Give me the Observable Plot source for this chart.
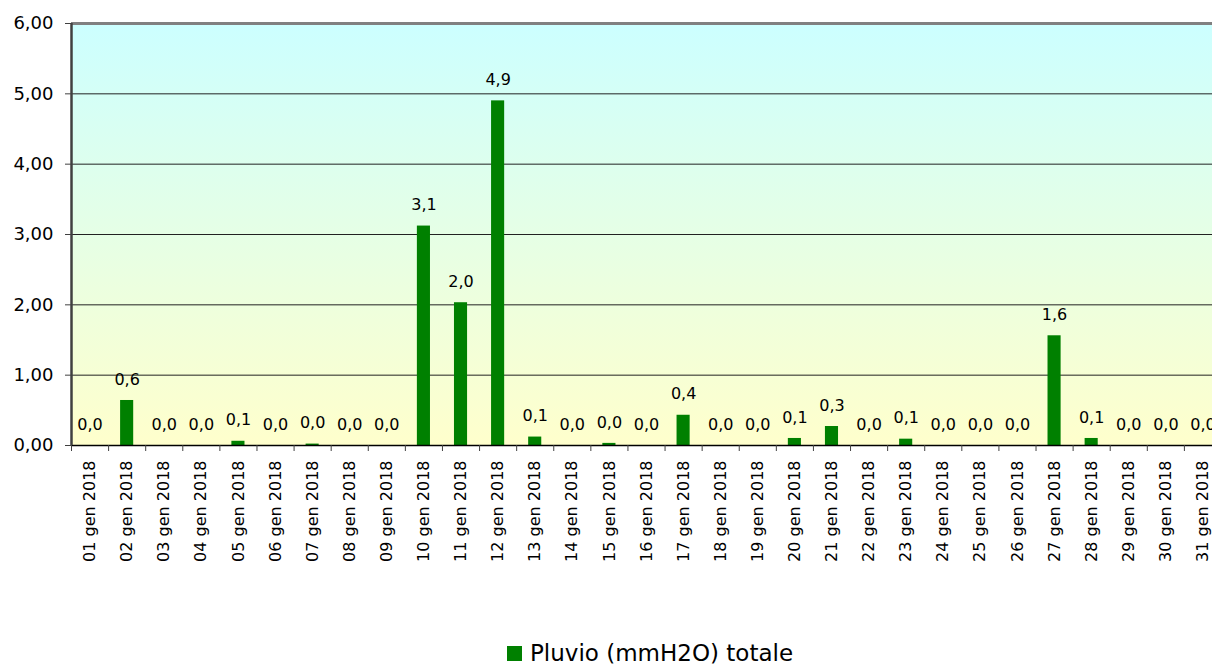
<!DOCTYPE html>
<html>
<head>
<meta charset="utf-8">
<script src="https://cdn.jsdelivr.net/npm/d3@7"></script>
<script src="https://cdn.jsdelivr.net/npm/@observablehq/plot@0.6"></script>
<style>
  html, body { margin: 0; padding: 0; background: #fff; overflow: hidden; width: 1212px; height: 666px; }
  #chart { width: 1222px; }
  #chart svg { display: block; overflow: visible; max-width: none !important; }
  #legend { position: absolute; left: 507px; top: 640px; display: flex; align-items: center;
            font-family: "DejaVu Sans", sans-serif; font-size: 23px; color: #000; }
  #legend .sw { width: 15px; height: 15px; background: #008000; margin-right: 8px; }
</style>
</head>
<body>
<div id="chart"></div>
<div id="legend"><span class="sw"></span><span>Pluvio (mmH2O) totale</span></div>
<script>
const days = d3.range(1, 32);
const dayLabels = days.map(d => String(d).padStart(2, "0") + " gen 2018");
const pluvio = [0.00, 0.64, 0.00, 0.00, 0.06, 0.00, 0.02, 0.00, 0.00, 3.12,
                2.03, 4.90, 0.12, 0.00, 0.03, 0.00, 0.43, 0.00, 0.00, 0.10,
                0.27, 0.00, 0.09, 0.00, 0.00, 0.00, 1.56, 0.10, 0.00, 0.00, 0.00];
const yTicks = [0, 1, 2, 3, 4, 5, 6];
const seriesName = "Pluvio (mmH2O) totale";

const data = days.map((d, i) => ({day: d, label: dayLabels[i], value: pluvio[i]}));
const it = d3.formatLocale({decimal: ",", thousands: ".", grouping: [3], currency: ["", "€"]});
const fmt2 = it.format(".2f");
const fmt1 = it.format(".1f");
const bounds = d3.range(0.5, 32, 1);

const chart = Plot.plot({
  width: 1222,
  height: 630,
  marginLeft: 71,
  marginRight: 1,
  marginTop: 23,
  marginBottom: 185,
  style: {fontFamily: "DejaVu Sans, sans-serif", color: "#000", background: "transparent", maxWidth: "none"},
  x: {domain: [0.5, 31.5]},
  y: {domain: [0, 6]},
  marks: [
    Plot.frame({fill: "url(#bgGrad)", stroke: "none"}),
    Plot.ruleY(yTicks.filter(t => t > 0 && t < 6), {stroke: "#222", strokeWidth: 1}),
    Plot.ruleY([6], {stroke: "#808080", strokeWidth: 3}),
    Plot.rectY(data, {x1: d => d.day - 0.5, x2: d => d.day + 0.5, y: "value", insetLeft: 12, insetRight: 12, fill: "#008000"}),
    Plot.ruleY([0], {stroke: "#000", strokeWidth: 1.5}),
    Plot.ruleX([0.5], {stroke: "#404040", strokeWidth: 2.5}),
    Plot.text(data, {x: "day", y: "value", text: d => fmt1(d.value), dy: -21, fontSize: 16, fill: "#000"}),
    Plot.axisY({ticks: yTicks, tickFormat: fmt2, tickSize: 6, tickPadding: 12, fontSize: 18, stroke: "#404040", label: null}),
    Plot.axisX({ticks: bounds, tickFormat: () => "", tickSize: 6, stroke: "#404040", label: null}),
    Plot.axisX({ticks: days, tickFormat: d => dayLabels[d - 1], tickSize: 0, tickPadding: 15, tickRotate: -90, fontSize: 16, label: null})
  ]
});

chart.insertAdjacentHTML("afterbegin",
  '<defs><linearGradient id="bgGrad" x1="0" y1="0" x2="0" y2="1">' +
  '<stop offset="0" stop-color="#ccffff"/><stop offset="1" stop-color="#ffffcc"/>' +
  '</linearGradient></defs>');
document.getElementById("chart").appendChild(chart);
</script>
</body>
</html>
